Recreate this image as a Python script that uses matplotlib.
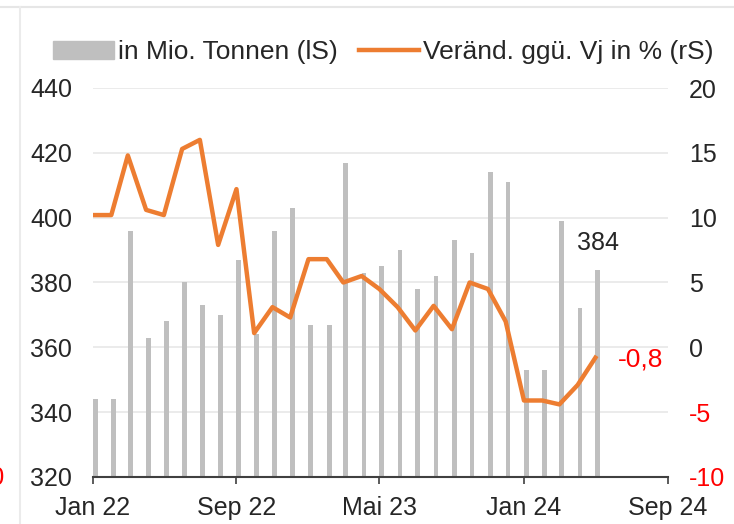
import pandas as pd
import matplotlib
matplotlib.use("Agg")
import matplotlib.pyplot as plt
from matplotlib.patches import Patch
from matplotlib.lines import Line2D

plt.rcParams['font.family'] = ['Liberation Sans', 'DejaVu Sans']
plt.rcParams['axes.unicode_minus'] = False

# Monthly production (Jan/Feb reported together) and year-on-year change
months = pd.date_range('2022-01-01', '2024-05-01', freq='MS')
tonnes = [344, 344, 396, 363, 368, 380, 373, 370, 387, 364, 396, 403,
          367, 367, 417, 383, 385, 390, 378, 382, 393, 389, 414, 411,
          353, 353, 399, 372, 384]
change = [10.2, 10.2, 14.8, 10.6, 10.2, 15.3, 16.0, 7.9, 12.2, 1.1, 3.1, 2.3,
          6.8, 6.8, 5.0, 5.5, 4.5, 3.1, 1.3, 3.2, 1.4, 5.0, 4.5, 2.0,
          -4.1, -4.1, -4.4, -2.9, -0.8]

tick_dates = pd.to_datetime(['2022-01-01', '2022-09-01', '2023-05-01',
                             '2024-01-01', '2024-09-01'])
tick_labels = ['Jan 22', 'Sep 22', 'Mai 23', 'Jan 24', 'Sep 24']
left_ticks = [320, 340, 360, 380, 400, 420, 440]
right_ticks = [-10, -5, 0, 5, 10, 15, 20]

bar_color = '#BFBFBF'
line_color = '#ED7D31'
text_color = '#262626'
red = '#FF0000'
fs = 18

fig = plt.figure(figsize=(7.34, 5.24), dpi=100)
W, H = 734, 524
ax = fig.add_axes([93 / W, 47 / H, 575 / W, 389 / H])

# bars sit just right of the month start so the first one stays inside the axes
bar_x = months + pd.Timedelta(days=4)
ax.bar(bar_x, tonnes, width=8, color=bar_color, zorder=2)
ax.set_ylim(320, 440)
ax.set_yticks(left_ticks)
ax.set_xlim(pd.Timestamp('2022-01-01'), pd.Timestamp('2024-09-01'))
ax.set_xticks(tick_dates)
ax.set_xticklabels(tick_labels)
ax.yaxis.grid(True, color='#E8E8E8', lw=1.2)
ax.set_axisbelow(True)

for s in ['left', 'right', 'top']:
    ax.spines[s].set_visible(False)
ax.spines['bottom'].set_color('#404040')
ax.spines['bottom'].set_linewidth(1.5)
ax.tick_params(axis='x', direction='out', length=5, width=1.2, color='#404040',
               labelsize=fs, labelcolor=text_color, pad=9)
ax.tick_params(axis='y', length=0, labelsize=fs, labelcolor=text_color, pad=15)

ax.annotate(str(tonnes[-1]), (bar_x[-1], tonnes[-1]), xytext=(0, 19),
            textcoords='offset points', ha='center', va='center',
            fontsize=fs, color=text_color)

# Right axis: percentage change
ax2 = ax.twinx()
ax2.plot(months, change, color=line_color, lw=3.2, zorder=3)
ax2.set_ylim(-10, 20)
ax2.set_yticks(right_ticks)
ax2.set_yticklabels([str(v) for v in right_ticks])
for s in ax2.spines.values():
    s.set_visible(False)
ax2.tick_params(axis='y', length=0, labelsize=fs, labelcolor=text_color, pad=15)
for lbl, v in zip(ax2.get_yticklabels(), right_ticks):
    if v < 0:
        lbl.set_color(red)

ax2.annotate(f"{change[-1]:.1f}".replace('.', ','), (months[-1], change[-1]),
             xytext=(16, -1.5), textcoords='offset points', ha='left',
             va='center', fontsize=fs + 1, color=red)

handles = [Patch(color=bar_color), Line2D([], [], color=line_color, lw=3.2)]
fig.legend(handles, ['in Mio. Tonnen (lS)', 'Veränd. ggü. Vj in % (rS)'],
           loc='center left', bbox_to_anchor=(53 / W, 1 - 52 / H), ncol=2,
           frameon=False, fontsize=19, handlelength=2.3, handleheight=0.7,
           handletextpad=0.15, columnspacing=0.8, borderpad=0,
           borderaxespad=0, labelcolor=text_color)

# panel frame lines and the clipped label of the neighbouring panel
fig.add_artist(Line2D([0, 1], [1 - 7 / H] * 2, color='#E6E6E6', lw=1.5,
                      transform=fig.transFigure))
fig.add_artist(Line2D([20 / W] * 2, [0, 1 - 7 / H], color='#EBEBEB', lw=1.5,
                      transform=fig.transFigure))
fig.text(5 / W, 1 - 478 / H, '-10', ha='right', va='center', fontsize=fs,
         color=red)

fig.savefig('out.png', dpi=100)
